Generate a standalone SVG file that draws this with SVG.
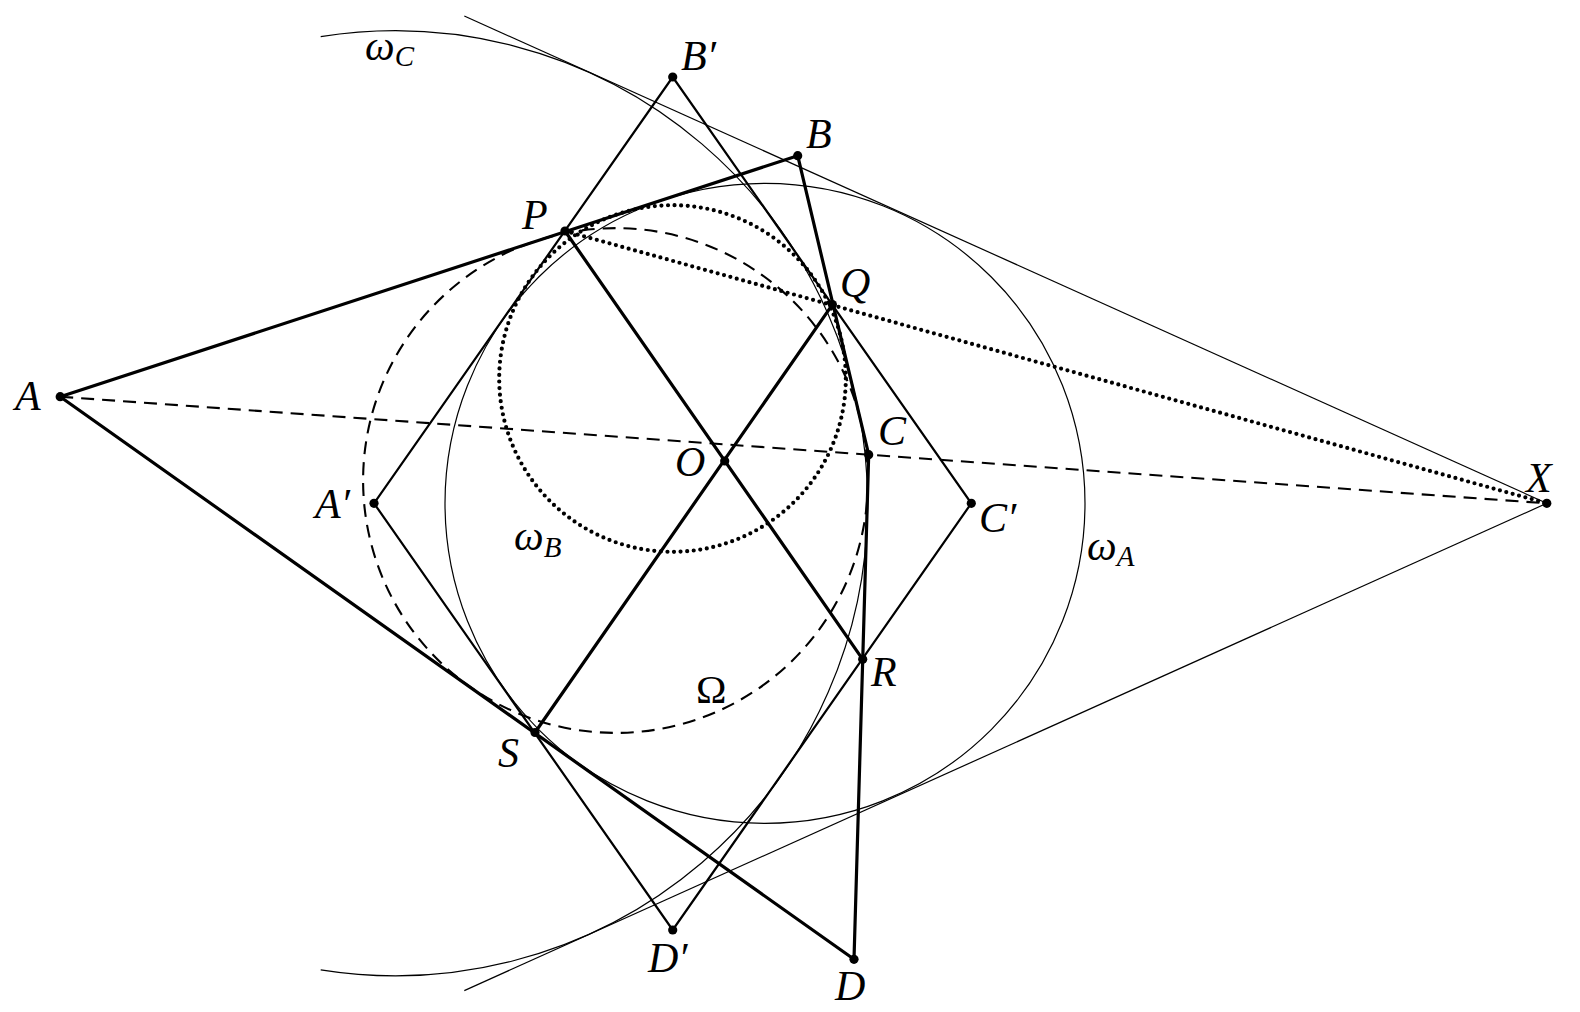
<svg xmlns="http://www.w3.org/2000/svg" width="1580" height="1012" viewBox="0 0 1580 1012">
<style>
.thin{fill:none;stroke:#000;stroke-width:1.2}
.mid{fill:none;stroke:#000;stroke-width:2.2;stroke-linecap:round}
.bold{fill:none;stroke:#000;stroke-width:3.2;stroke-linecap:round}
.dash{fill:none;stroke:#000;stroke-width:2.1;stroke-dasharray:13 8}
.dot{fill:none;stroke:#000;stroke-width:4.2;stroke-dasharray:0 6.6;stroke-linecap:round}
.pt{fill:#000}
.lbl{font-family:"Liberation Serif","Times New Roman",serif;font-style:italic;font-size:42px;fill:#000}
.sub{font-size:29px}
.up{font-family:"Liberation Serif","Times New Roman",serif;font-size:41px;fill:#000}
</style>
<rect width="1580" height="1012" fill="#fff"/>
<g id="circles">
<circle id="omegaA" class="thin" cx="765" cy="503.3" r="320"/>
<path id="omegaC" class="thin" d="M320.7 36.7 A472.5 472.5 0 1 1 320.7 969.9"/>
<circle id="omegaB" class="dot" cx="672.5" cy="378.5" r="173.3"/>
<circle id="Omega" class="dash" cx="615.5" cy="480.5" r="252.4"/>
</g>
<g id="connectors">
<line class="thin" x1="464.3" y1="16" x2="1546.8" y2="503.3"/>
<line class="thin" x1="464.3" y1="990.6" x2="1546.8" y2="503.3"/>
<polygon class="mid" points="374,503.3 672.7,77 971.3,503.3 672.7,930"/>
<line class="dash" x1="60.2" y1="396.7" x2="1546.8" y2="503.3"/>
<line class="dot" x1="565" y1="231" x2="1546.8" y2="503.3"/>
<polygon class="bold" points="60.2,396.7 797.7,155.7 868.7,454.7 854,959.3" stroke-linejoin="round"/>
<line class="bold" x1="565" y1="231" x2="862.7" y2="659.3"/>
<line class="bold" x1="832.4" y1="304.6" x2="535" y2="732.5"/>
</g>
<g id="node-A"><circle class="pt" cx="60.2" cy="396.7" r="4.6"/><text class="lbl" x="15" y="410">A</text></g>
<g id="node-B"><circle class="pt" cx="797.7" cy="155.7" r="4.6"/><text class="lbl" x="806" y="148">B</text></g>
<g id="node-C"><circle class="pt" cx="868.7" cy="454.7" r="4.6"/><text class="lbl" x="878" y="445">C</text></g>
<g id="node-D"><circle class="pt" cx="854" cy="959.3" r="4.6"/><text class="lbl" x="835" y="1000">D</text></g>
<g id="node-P"><circle class="pt" cx="565" cy="231" r="4.6"/><text class="lbl" x="522" y="229">P</text></g>
<g id="node-Q"><circle class="pt" cx="832.4" cy="304.6" r="4.6"/><text class="lbl" x="840" y="297">Q</text></g>
<g id="node-R"><circle class="pt" cx="862.7" cy="659.3" r="4.6"/><text class="lbl" x="871" y="686">R</text></g>
<g id="node-S"><circle class="pt" cx="535" cy="732.5" r="4.6"/><text class="lbl" x="498" y="767">S</text></g>
<g id="node-O"><circle class="pt" cx="724.7" cy="461" r="4.6"/><text class="lbl" x="675" y="476">O</text></g>
<g id="node-X"><circle class="pt" cx="1546.8" cy="503.3" r="4.6"/><text class="lbl" x="1526" y="492">X</text></g>
<g id="node-A1"><circle class="pt" cx="374" cy="503.3" r="4.6"/><text class="lbl" x="315" y="518">A′</text></g>
<g id="node-B1"><circle class="pt" cx="672.7" cy="77" r="4.6"/><text class="lbl" x="681" y="70">B′</text></g>
<g id="node-C1"><circle class="pt" cx="971.3" cy="503.3" r="4.6"/><text class="lbl" x="979" y="532">C′</text></g>
<g id="node-D1"><circle class="pt" cx="672.7" cy="930" r="4.6"/><text class="lbl" x="648" y="972">D′</text></g>
<g id="label-omegaC"><text class="lbl" x="365" y="60">ω<tspan class="sub" dy="6">C</tspan></text></g>
<g id="label-omegaB"><text class="lbl" x="514" y="550">ω<tspan class="sub" dy="7">B</tspan></text></g>
<g id="label-omegaA"><text class="lbl" x="1087" y="560">ω<tspan class="sub" dy="6">A</tspan></text></g>
<g id="label-Omega"><text class="up" x="696" y="703">Ω</text></g>
</svg>
